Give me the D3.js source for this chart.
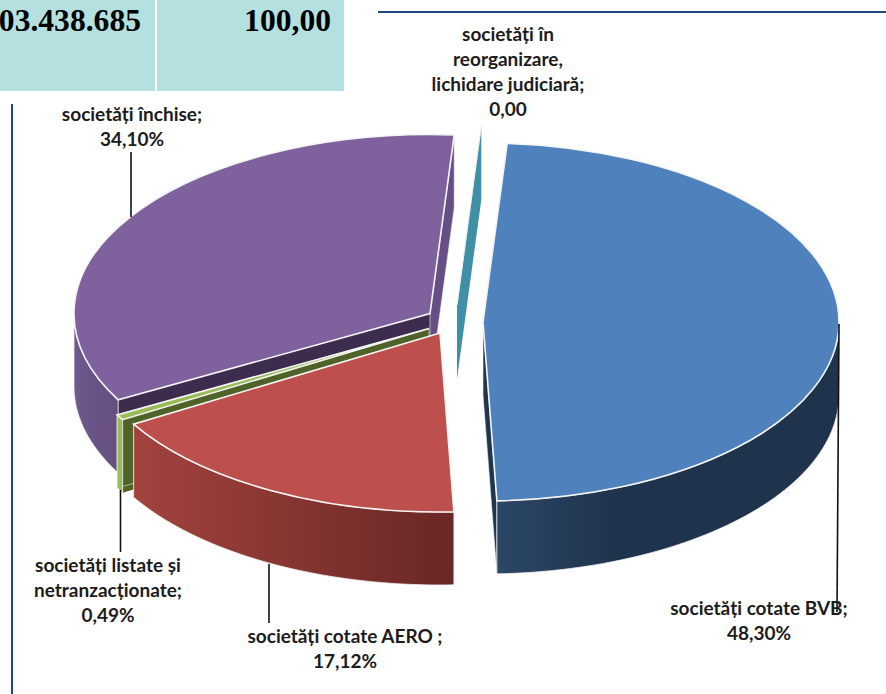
<!DOCTYPE html>
<html>
<head>
<meta charset="utf-8">
<script src="https://cdn.jsdelivr.net/npm/d3@7"></script>
<style>
  html, body { margin: 0; padding: 0; background: #fff; overflow: hidden; }
  svg { display: block; }
  .lbl { font-family: Lato, "Open Sans", sans-serif; font-weight: 700; font-size: 19px; fill: #1c1c1c; text-anchor: middle; }
  .cell { font-family: "Liberation Serif", serif; font-weight: 700; font-size: 31.6px; fill: #000; text-anchor: end; }
</style>
</head>
<body>
<div id="chart"></div>
<script>
// values
const categories = ["cotate BVB", "cotate AERO", "listate", "inchise", "reorganizare"];
const shares = [48.30, 17.12, 0.49, 34.10, 0.00];
const labelLines = [
  ["societăți cotate BVB;", "48,30%"],
  ["societăți cotate AERO ;", "17,12%"],
  ["societăți listate și", "netranzacționate;", "0,49%"],
  ["societăți închise;", "34,10%"],
  ["societăți în", "reorganizare,", "lichidare judiciară;", "0,00"]
];
const tableCells = ["03.438.685", "100,00"];

// layout
const width = 886, height = 694;
const rx = 356, ry = 179, depth = 73;
const firstAngle = 3.9 * Math.PI / 180;
const apex = [[483, 322], [440, 333], [429, 328.5], [430, 313.5], [457, 305]];
const labelPos = [[759, 615], [345, 643], [108, 572], [132, 121], [508, 41]];
const leaders = [[[839, 324], [837, 612]], [[269, 564], [269, 623]], [[120.5, 490], [120.5, 552]], [[131, 152], [131, 217]]];
const topColor = ["#4f81bd", "#bd4f4c", "#9bbb59", "#7f619d", "#3f8fa6"];
const wallStops = [["#2b4766", "#1f334d", "#1f334d"], ["#a2433f", "#8e3935", "#692725"], ["#9bbb59", "#9bbb59", "#9bbb59"], ["#6f5a8e", "#6a5488", "#65507f"], ["#3f8fa6", "#3f8fa6", "#3f8fa6"]];
const wallOffsets = [0, 0.35, 1];
const startCut = ["#1f3550", "#7a2e2b", "#4f6228", "#3e2c4f", "#3f8fa6"];
const endCut = ["#1f3550", "#7a2e2b", "#4f6228", "#654f84", "#3f8fa6"];
const edge = "#f1f1f1";

const svg = d3.select("#chart").append("svg").attr("width", width).attr("height", height);
const defs = svg.append("defs");

// table corner
svg.append("rect").attr("x", 0).attr("y", 0).attr("width", 155).attr("height", 91).attr("fill", "#b5e0e0");
svg.append("rect").attr("x", 157).attr("y", 0).attr("width", 187).attr("height", 91).attr("fill", "#b5e0e0");
svg.append("text").attr("class", "cell").attr("x", 141).attr("y", 31).text(tableCells[0]);
svg.append("text").attr("class", "cell").attr("x", 331).attr("y", 31).text(tableCells[1]);

// frame lines around the chart
svg.append("line").attr("x1", 378).attr("x2", 886).attr("y1", 12).attr("y2", 12).attr("stroke", "#1f497d").attr("stroke-width", 2);
svg.append("line").attr("x1", 12).attr("x2", 12).attr("y1", 104).attr("y2", 694).attr("stroke", "#1f497d").attr("stroke-width", 2);

const pie = d3.pie().sort(null).value(d => d).startAngle(firstAngle).endAngle(firstAngle + 2 * Math.PI);
const arcs = pie(shares);
const arc = d3.arc().innerRadius(0).outerRadius(rx);
const line = d3.line();

const pt = (i, a, drop = 0) => [apex[i][0] + rx * Math.sin(a), apex[i][1] - ry * Math.cos(a) + drop];
const cutFace = (i, a) => line([apex[i], pt(i, a), pt(i, a, depth), [apex[i][0], apex[i][1] + depth]]) + "Z";

function wallPath(i, a0, a1) {
  const lo = Math.max(a0, Math.PI / 2), hi = Math.min(a1, 3 * Math.PI / 2);
  if (hi <= lo) return null;
  const steps = d3.range(0, 61).map(k => lo + (hi - lo) * k / 60);
  const upper = steps.map(a => pt(i, a));
  const lower = steps.slice().reverse().map(a => pt(i, a, depth));
  return line(upper.concat(lower)) + "Z";
}

// back to front
[3, 2, 1, 4, 0].forEach(i => {
  const d = arcs[i];
  const g = svg.append("g");
  const wall = wallPath(i, d.startAngle, d.endAngle);

  g.append("path").attr("d", cutFace(i, d.startAngle)).attr("fill", startCut[i])
    .attr("stroke", i === 4 ? edge : "none").attr("stroke-width", 0.6);
  g.append("path").attr("d", cutFace(i, d.endAngle)).attr("fill", endCut[i])
    .attr("stroke", i === 4 ? "none" : edge).attr("stroke-width", 0.6);

  if (wall) {
    const lo = pt(i, Math.min(d.endAngle, 3 * Math.PI / 2))[0], hi = pt(i, Math.max(d.startAngle, Math.PI / 2))[0];
    const gr = defs.append("linearGradient").attr("id", "wall" + i).attr("gradientUnits", "userSpaceOnUse")
      .attr("x1", Math.min(lo, hi)).attr("x2", Math.max(lo, hi)).attr("y1", 0).attr("y2", 0);
    wallStops[i].forEach((c, k) => gr.append("stop").attr("offset", wallOffsets[k]).attr("stop-color", c));
    g.append("path").attr("d", wall).attr("fill", `url(#wall${i})`).attr("stroke", edge).attr("stroke-width", 0.8);
  }

  g.append("path")
    .attr("d", arc({ startAngle: d.startAngle, endAngle: d.endAngle }))
    .attr("transform", `translate(${apex[i][0]},${apex[i][1]}) scale(1,${ry / rx})`)
    .attr("fill", topColor[i])
    .attr("stroke", "#f4f4f4").attr("stroke-width", i === 4 ? 0.8 : 1.6)
    .attr("vector-effect", "non-scaling-stroke");
});

// leader lines sit on top of the slices
leaders.forEach(l => svg.append("path").attr("d", line(l)).attr("fill", "none").attr("stroke", "#111").attr("stroke-width", 1.6));

labelLines.forEach((lines, i) => {
  const t = svg.append("text").attr("class", "lbl").attr("x", labelPos[i][0]).attr("y", labelPos[i][1]);
  lines.forEach((s, k) => t.append("tspan").attr("x", labelPos[i][0]).attr("dy", k ? 25 : 0).text(s));
});
</script>
</body>
</html>
